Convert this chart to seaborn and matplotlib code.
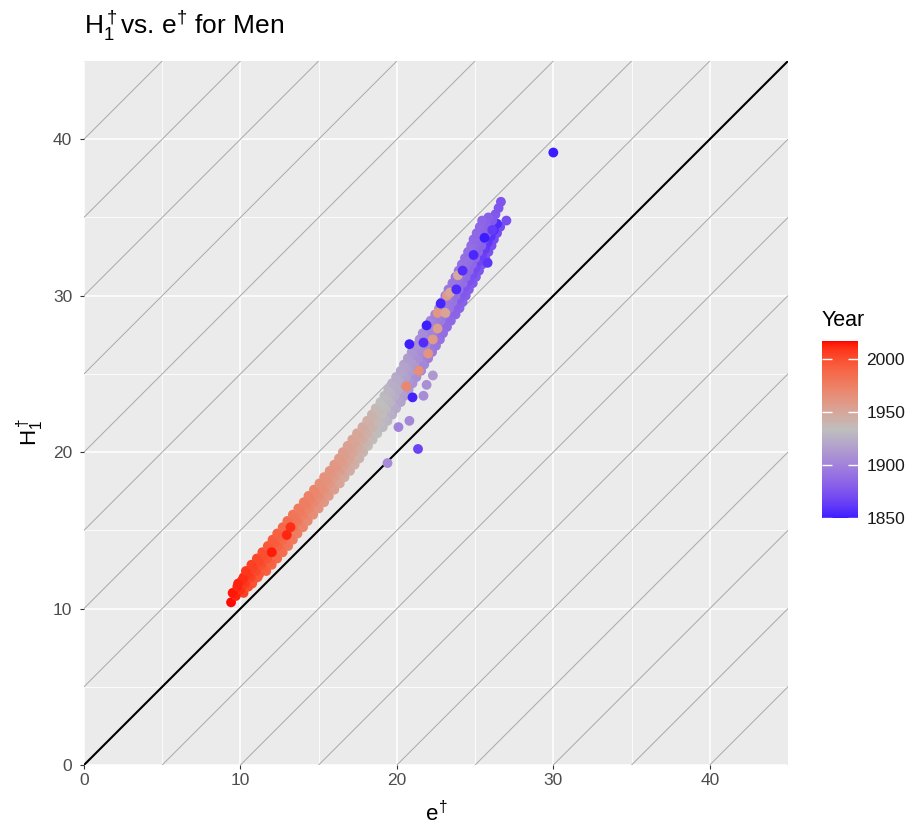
import numpy as np
import pandas as pd
import matplotlib
matplotlib.use("Agg")
import matplotlib.pyplot as plt
import seaborn as sns
from matplotlib.colors import ListedColormap, Normalize, to_rgb
from matplotlib.cm import ScalarMappable

# ---------------- data ----------------
h_center = [10.4,10.8,11.2,11.6,12.0,12.4,12.8,13.2,13.6,14.0,14.4,14.8,15.2,15.6,16.0,16.4,16.8,17.2,17.6,18.0,
            18.4,18.8,19.2,19.6,20.0,20.4,20.8,21.2,21.6,22.0,22.4,22.8,23.2,23.6,24.0,24.4,24.8,25.2,25.6,26.0,
            26.4,26.8,27.2,27.6,28.0,28.4,28.8,29.2,29.6,30.0,30.4,30.8,31.2,31.6,32.0,32.4,32.8,33.2,33.6,34.0,
            34.4,34.8,35.2,35.6,36.0]
e_center = [9.4,9.7,10.0,10.3,10.65,11.0,11.35,11.7,12.05,12.4,12.7,13.0,13.35,13.65,14.0,14.35,14.7,15.0,15.35,15.7,
            16.0,16.35,16.65,16.95,17.2,17.5,17.8,18.1,18.45,18.75,19.05,19.3,19.6,19.85,20.1,20.35,20.6,20.9,21.1,21.35,
            21.6,21.85,22.1,22.3,22.55,22.8,23.1,23.35,23.55,23.75,23.95,24.2,24.4,24.6,24.8,25.0,25.2,25.4,25.55,25.75,
            25.95,26.1,26.3,26.5,26.65]
yr_center = [2016,2013,2010,2007,2005,2002,1999,1997,1994,1990,1988,1985,1982,1979,1975,1972,1970,1968,1965,1960,
             1958,1956,1954,1952,1950,1948,1946,1944,1941,1938,1935,1932,1928,1925,1922,1919,1917,1914,1912,1908,
             1905,1903,1901,1899,1897,1896,1894,1893,1892,1890,1889,1888,1887,1886,1885,1884,1883,1882,1881,1880,
             1879,1878,1877,1876,1875]

h_left = [11.0,11.4,11.8,12.2,12.6,13.0,13.4,13.8,14.2,14.6,15.0,15.4,15.8,16.2,16.6,17.0,17.4,17.8,18.2,18.6,
          19.0,19.4,19.8,20.2,20.6,21.0,21.4,21.8,22.2,22.6,23.0,23.4,23.8,24.2,24.6,25.0,25.4,25.8,26.2,26.6,
          27.0,27.4,27.8,28.2,28.6,29.0,29.4,29.8,30.2,30.6,31.0,31.4,31.8,32.2,32.6,33.0,33.4,33.8,34.2,34.6,35.0]
e_left = [9.5,9.8,10.1,10.5,10.8,11.2,11.5,11.9,12.2,12.5,12.8,13.15,13.5,13.8,14.2,14.5,14.8,15.2,15.5,15.8,
          16.15,16.45,16.7,17.0,17.3,17.6,17.9,18.25,18.55,18.8,19.1,19.4,19.6,19.9,20.1,20.4,20.65,20.9,21.1,21.4,
          21.6,21.85,22.1,22.3,22.6,22.9,23.1,23.3,23.5,23.7,23.95,24.15,24.35,24.55,24.75,24.95,25.1,25.3,25.5,25.7,25.85]
yr_left = [2015,2012,2010,2007,2004,2002,2000,1996,1993,1990,1988,1985,1981,1978,1975,1973,1970,1966,1963,1961,
           1959,1957,1955,1953,1951,1949,1946,1943,1940,1937,1934,1930,1927,1924,1922,1919,1917,1914,1910,1907,
           1905,1903,1901,1900,1898,1897,1895,1894,1893,1892,1891,1890,1889,1888,1887,1886,1885,1884,1883,1882,1881]

h_right = [11.0,11.4,11.8,12.2,12.6,13.0,13.4,13.8,14.2,14.6,15.0,15.4,15.8,16.2,16.6,17.0,17.4,17.8,18.2,18.6,
           19.0,19.4,19.8,20.2,20.6,21.0,21.4,21.8,22.2,22.6,23.0,23.4,23.8,24.2,24.6,25.0,25.4,25.8,26.2,26.6,
           27.0,27.4,27.8,28.2,28.6,29.0,29.4,29.8,30.2,30.6,31.0,31.4,31.8,32.2,32.6,33.0,33.4,33.8,34.2,34.6]
e_right = [10.2,10.5,10.8,11.2,11.5,11.9,12.2,12.6,12.9,13.2,13.5,13.85,14.2,14.5,14.9,15.2,15.5,15.9,16.2,16.5,
           16.85,17.15,17.4,17.7,18.0,18.3,18.6,18.95,19.25,19.5,19.8,20.1,20.3,20.6,20.8,21.1,21.35,21.6,21.8,22.1,
           22.3,22.55,22.8,23.0,23.3,23.6,23.8,24.0,24.2,24.4,24.65,24.85,25.05,25.25,25.45,25.65,25.8,26.0,26.2,26.4]
yr_right = [2004,2001,1998,1996,1994,1991,1988,1985,1982,1979,1976,1973,1970,1967,1964,1962,1960,1956,1952,1950,
            1948,1946,1944,1942,1940,1938,1935,1932,1929,1926,1923,1919,1916,1913,1911,1908,1906,1903,1899,1896,
            1894,1891,1889,1887,1885,1883,1881,1879,1877,1875,1873,1871,1869,1867,1865,1863,1861,1859,1857,1855]

h_left_out = [11.6,12.0,12.4,12.8,13.2,13.6,14.0,14.4,14.8,15.2,15.6,16.0,16.4,16.8,17.2,17.6,18.0,18.4,18.8,19.2,
              19.6,20.0,20.4,20.8,21.2,21.6,22.0,22.4,22.8,23.2,23.6,24.0,24.4,24.8,25.2,25.6,26.0,26.4,26.8,27.2,
              27.6,28.0,28.4,28.8,29.2,29.6,30.0,30.4,30.8,31.2,31.6,32.0,32.4,32.8,33.2,33.6,34.0,34.4,34.8]
e_left_out = [9.85,10.2,10.35,10.7,11.05,11.4,11.75,12.05,12.35,12.7,13.0,13.35,13.7,14.05,14.35,14.7,15.05,15.35,15.7,16.0,
              16.3,16.55,16.85,17.15,17.45,17.8,18.1,18.4,18.65,18.95,19.2,19.45,19.7,19.95,20.25,20.45,20.7,20.95,21.2,21.45,
              21.65,21.9,22.15,22.45,22.7,22.9,23.1,23.3,23.55,23.75,23.95,24.15,24.35,24.55,24.75,24.9,25.1,25.3,25.45]
yr_left_out = [2013,2011,2008,2005,2003,2000,1996,1994,1991,1988,1985,1981,1978,1976,1974,1971,1966,1964,1962,1960,
               1958,1956,1954,1952,1950,1947,1944,1941,1938,1934,1931,1928,1925,1923,1920,1918,1914,1911,1909,1907,
               1905,1903,1902,1900,1899,1898,1896,1895,1894,1893,1892,1891,1890,1889,1888,1887,1886,1885,1884]

h_right_out = [11.6,12.0,12.4,12.8,13.2,13.6,14.0,14.4,14.8,15.2,15.6,16.0,16.4,16.8,17.2,17.6,18.0,18.4,18.8,19.2,
               19.6,20.0,20.4,20.8,21.2,21.6,22.0,22.4,22.8,23.2,23.6,24.0,24.4,24.8,25.2,25.6,26.0,26.4,26.8,27.2,
               27.6,28.0,28.4,28.8,29.2,29.6,30.0,30.4,30.8,31.2,31.6,32.0,32.4,32.8,33.2,33.6,34.0,34.4]
e_right_out = [10.75,11.1,11.65,12.0,12.35,12.7,13.05,13.35,13.65,14.0,14.3,14.65,15.0,15.35,15.65,16.0,16.35,16.65,17.0,17.3,
               17.6,17.85,18.15,18.45,18.75,19.1,19.4,19.7,19.95,20.25,20.5,20.75,21.0,21.25,21.55,21.75,22.0,22.25,22.5,22.75,
               22.95,23.2,23.45,23.75,24.0,24.2,24.4,24.6,24.85,25.05,25.25,25.45,25.65,25.85,26.05,26.2,26.4,26.6]
yr_right_out = [1997,1995,1992,1989,1987,1984,1980,1978,1975,1972,1969,1965,1962,1960,1958,1955,1950,1948,1946,1944,
                1942,1940,1938,1936,1934,1931,1928,1925,1922,1918,1915,1912,1909,1907,1904,1902,1898,1895,1893,1891,
                1889,1887,1886,1884,1883,1882,1880,1879,1878,1877,1876,1875,1874,1873,1872,1871,1870,1869]

e_extra = [22.3,22.6,22.6,23.1,23.2,23.4,23.9,22.0,21.4,20.6,
           30.0,20.8,21.0,21.35,19.4,22.3,21.9,21.7,20.8,20.1,
           27.0,21.9,21.7,22.8,25.6,24.9,24.2,23.8,25.8,26.1,
           12.96,12.0,13.2]
h_extra = [27.2,27.9,28.9,28.9,30.0,30.2,31.3,26.3,25.2,24.2,
           39.15,26.9,23.5,20.2,19.3,24.9,24.3,23.6,22.0,21.6,
           34.8,28.1,27.0,29.5,33.7,32.6,31.6,30.4,32.1,34.2,
           14.7,13.6,15.2]
yr_extra = [1958,1955,1960,1952,1957,1950,1948,1962,1966,1970,
            1850,1851,1852,1866,1905,1912,1908,1906,1903,1900,
            1872,1851,1856,1853,1850,1854,1857,1855,1860,1862,
            2012,2014,2010]

diag_offsets = list(range(-45, 50, 5))
x_ticks = [0, 10, 20, 30, 40]
y_ticks = [0, 10, 20, 30, 40]
legend_ticks = [1850, 1900, 1950, 2000]
year_min, year_mid, year_max = 1850, 1933.5, 2017

df = pd.DataFrame({
    "e": e_right_out + e_right + e_center + e_left + e_left_out + e_extra,
    "h": h_right_out + h_right + h_center + h_left + h_left_out + h_extra,
    "year": yr_right_out + yr_right + yr_center + yr_left + yr_left_out + yr_extra,
})

# ---------------- colour scale: Lab interpolation low-mid-high ----------------
_M = np.array([[0.4124, 0.3576, 0.1805], [0.2126, 0.7152, 0.0722], [0.0193, 0.1192, 0.9505]])
_W = np.array([0.95047, 1.0, 1.08883])

def to_lab(c):
    c = np.array(to_rgb(c))
    lin = np.where(c <= 0.04045, c / 12.92, ((c + 0.055) / 1.055) ** 2.4)
    xyz = _M @ lin / _W
    f = np.where(xyz > 0.008856, np.cbrt(xyz), 7.787 * xyz + 16 / 116)
    return np.array([116 * f[1] - 16, 500 * (f[0] - f[1]), 200 * (f[1] - f[2])])

def from_lab(lab):
    fy = (lab[0] + 16) / 116
    f = np.array([fy + lab[1] / 500, fy, fy - lab[2] / 200])
    xyz = np.where(f ** 3 > 0.008856, f ** 3, (f - 16 / 116) / 7.787) * _W
    lin = np.linalg.solve(_M, xyz)
    lin = np.clip(lin, 0, 1)
    c = np.where(lin <= 0.0031308, 12.92 * lin, 1.055 * lin ** (1 / 2.4) - 0.055)
    return np.clip(c, 0, 1)

lo, mi, hi = to_lab("#3A1CFF"), to_lab("#BEBEBE"), to_lab("#FF0000")
cols = []
for t in np.linspace(0, 1, 256):
    if t <= 0.5:
        cols.append(from_lab(lo + (mi - lo) * (t / 0.5)))
    else:
        cols.append(from_lab(mi + (hi - mi) * ((t - 0.5) / 0.5)))
cmap = ListedColormap(cols)
half = max(year_mid - year_min, year_max - year_mid)
norm = Normalize(vmin=year_mid - half, vmax=year_mid + half)

# ---------------- figure ----------------
plt.rcParams["font.family"] = ["Liberation Sans", "DejaVu Sans"]
plt.rcParams["mathtext.fontset"] = "custom"
plt.rcParams["mathtext.rm"] = "Liberation Sans"
plt.rcParams["mathtext.it"] = "Liberation Sans:italic"
plt.rcParams["mathtext.sf"] = "Liberation Sans"
plt.rcParams["mathtext.default"] = "regular"

fig = plt.figure(figsize=(9.1, 8.25), dpi=100)
ax = fig.add_axes([84 / 910, 60 / 825, 704 / 910, 704 / 825])
ax.set_facecolor("#EBEBEB")
for s in ax.spines.values():
    s.set_visible(False)

for v in [5, 15, 25, 35]:
    ax.axvline(v, color="white", lw=0.6, zorder=0)
    ax.axhline(v, color="white", lw=0.6, zorder=0)
for v in x_ticks:
    ax.axvline(v, color="white", lw=1.15, zorder=0)
for v in y_ticks:
    ax.axhline(v, color="white", lw=1.15, zorder=0)

xs = np.array([0, 45])
for k in diag_offsets:
    ax.plot(xs, xs + k, color="#A9A9A9", lw=0.7, zorder=1)
ax.plot(xs, xs, color="black", lw=1.5, zorder=2)

sns.scatterplot(data=df, x="e", y="h", hue="year", palette=cmap, hue_norm=norm,
                s=50, linewidth=0, legend=False, ax=ax, zorder=3)

ax.set_xlim(0, 45)
ax.set_ylim(0, 45)
ax.set_xticks(x_ticks)
ax.set_yticks(y_ticks)
ax.tick_params(axis="both", length=2.9, width=0.8, color="#333333", labelcolor="#4D4D4D",
               labelsize=12.5)
ax.tick_params(axis="x", pad=3.2)
ax.tick_params(axis="y", pad=5.5)
ax.set_xlabel("")
ax.set_ylabel("")

fig.text(84 / 910, 1 - 34 / 825, r"$H_1^\dagger$vs. e$^{\!\dagger}\,$for Men", fontsize=19,
         ha="left", va="baseline", color="black")
fig.text(436 / 910, 1 - 821 / 825, r"e$^{\!\dagger}$", fontsize=16, ha="center", va="baseline")
fig.text(30 / 910, 1 - 432 / 825, r"$H_1^\dagger$", fontsize=16, ha="center", va="center",
         rotation=90)

# colour bar legend
cax = fig.add_axes([822 / 910, (825 - 518) / 825, 36 / 910, 177 / 825])
sm = ScalarMappable(norm=Normalize(vmin=year_min, vmax=year_max), cmap=ListedColormap(
    [cmap(norm(v)) for v in np.linspace(year_min, year_max, 256)]))
cb = fig.colorbar(sm, cax=cax)
cb.outline.set_visible(False)
cb.set_ticks(legend_ticks)
cax.tick_params(direction="in", length=7, width=1, color="white", left=True, right=True,
                labelleft=False, labelright=True, labelsize=12.5, labelcolor="#1A1A1A", pad=6)
fig.text(822 / 910, 1 - 320 / 825, "Year", fontsize=15.5, ha="left", va="center")

fig.savefig("out.png", dpi=100)
